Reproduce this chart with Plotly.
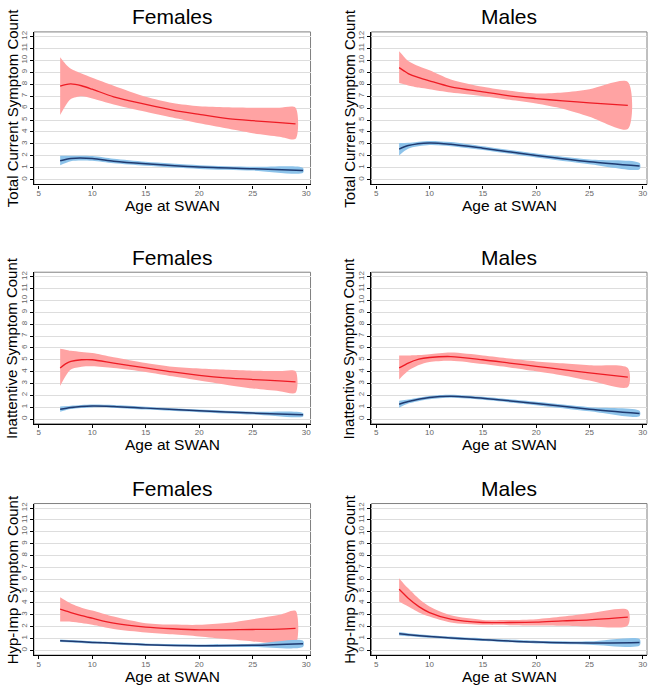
import plotly.graph_objects as go

# ---------------- data ----------------
F_red_age = [7, 7.5, 8, 9, 10, 12, 15, 17.5, 20, 22.5, 25, 27.5, 29]
M_red_age = [7.15, 7.6, 8, 9, 10, 12, 15, 17.5, 20, 22.5, 25, 28.6]
F_blue_age = [7, 8, 10, 12, 15, 20, 25, 29.7]
M_blue_age = [7.15, 8, 10, 12, 15, 20, 25, 29.7]

# Females - Total
ft_red = [7.83, 7.97, 8.03, 7.87, 7.58, 6.94, 6.31, 5.83, 5.47, 5.14, 4.94, 4.78, 4.67]
ft_red_hi = [10.25, 9.7, 9.3, 8.9, 8.55, 7.88, 6.95, 6.42, 6.15, 6.07, 6.03, 6.03, 6.03]
ft_red_lo = [5.42, 6.2, 6.75, 6.98, 6.8, 6.3, 5.69, 5.2, 4.72, 4.3, 3.89, 3.6, 3.42]
ft_blue = [1.58, 1.78, 1.78, 1.55, 1.33, 1.06, 0.92, 0.78]
ft_blue_hi = [2.0, 2.0, 1.98, 1.75, 1.5, 1.22, 1.08, 0.98]
ft_blue_lo = [1.2, 1.55, 1.58, 1.37, 1.16, 0.9, 0.76, 0.58]

# Males - Total
mt_red = [9.39, 9.12, 8.89, 8.55, 8.28, 7.78, 7.36, 7.03, 6.8, 6.6, 6.44, 6.22]
mt_red_hi = [10.75, 10.3, 9.95, 9.5, 9.17, 8.4, 7.78, 7.45, 7.22, 7.3, 7.58, 8.19]
mt_red_lo = [8.11, 8.0, 7.9, 7.72, 7.58, 7.3, 7.0, 6.7, 6.39, 5.95, 5.28, 4.25]
mt_blue = [2.56, 2.86, 3.08, 2.97, 2.64, 2.03, 1.5, 1.14]
mt_blue_hi = [3.08, 3.1, 3.25, 3.15, 2.8, 2.2, 1.7, 1.4]
mt_blue_lo = [2.03, 2.6, 2.9, 2.8, 2.48, 1.86, 1.3, 0.88]

# Females - Inattentive
fi_red = [4.31, 4.65, 4.86, 5.0, 5.0, 4.72, 4.31, 3.97, 3.69, 3.47, 3.33, 3.22, 3.14]
fi_red_hi = [5.92, 5.85, 5.75, 5.65, 5.56, 5.2, 4.72, 4.4, 4.25, 4.15, 4.08, 4.05, 4.03]
fi_red_lo = [2.78, 3.6, 4.17, 4.4, 4.44, 4.3, 3.97, 3.6, 3.25, 2.9, 2.58, 2.35, 2.22]
fi_blue = [0.83, 0.98, 1.1, 1.06, 0.92, 0.69, 0.5, 0.36]
fi_blue_hi = [1.05, 1.12, 1.22, 1.18, 1.04, 0.8, 0.62, 0.5]
fi_blue_lo = [0.62, 0.84, 0.98, 0.94, 0.8, 0.58, 0.38, 0.22]

# Males - Inattentive
mi_red = [4.31, 4.52, 4.72, 5.05, 5.19, 5.27, 5.0, 4.72, 4.44, 4.17, 3.89, 3.53]
mi_red_hi = [5.36, 5.36, 5.36, 5.4, 5.47, 5.6, 5.36, 5.1, 4.86, 4.7, 4.53, 4.31]
mi_red_lo = [3.33, 3.75, 4.08, 4.55, 4.81, 4.92, 4.64, 4.35, 4.03, 3.68, 3.25, 2.69]
mi_blue = [1.25, 1.47, 1.81, 1.92, 1.75, 1.31, 0.83, 0.47]
mi_blue_hi = [1.55, 1.65, 1.95, 2.05, 1.88, 1.45, 1.0, 0.7]
mi_blue_lo = [0.95, 1.3, 1.67, 1.79, 1.62, 1.17, 0.66, 0.24]

# Females - Hyp-Imp
fh_red = [3.47, 3.33, 3.19, 2.93, 2.71, 2.29, 1.96, 1.82, 1.73, 1.73, 1.76, 1.79, 1.85]
fh_red_hi = [4.48, 4.2, 3.95, 3.6, 3.36, 2.85, 2.29, 2.17, 2.15, 2.3, 2.63, 3.0, 3.33]
fh_red_lo = [2.43, 2.43, 2.42, 2.3, 2.15, 1.8, 1.51, 1.35, 1.17, 0.95, 0.75, 0.55, 0.5]
fh_blue = [0.81, 0.77, 0.67, 0.6, 0.48, 0.39, 0.42, 0.56]
fh_blue_hi = [0.92, 0.87, 0.77, 0.7, 0.58, 0.5, 0.55, 0.82]
fh_blue_lo = [0.7, 0.67, 0.57, 0.5, 0.38, 0.28, 0.29, 0.3]

# Males - Hyp-Imp
mh_red = [5.15, 4.75, 4.39, 3.69, 3.19, 2.63, 2.35, 2.35, 2.38, 2.49, 2.57, 2.8]
mh_red_hi = [6.07, 5.6, 5.23, 4.35, 3.69, 2.95, 2.57, 2.55, 2.63, 2.85, 3.13, 3.41]
mh_red_lo = [4.11, 3.88, 3.69, 3.2, 2.85, 2.35, 2.15, 2.12, 2.1, 2.08, 2.01, 2.1]
mh_blue = [1.4, 1.32, 1.17, 1.05, 0.9, 0.7, 0.62, 0.67]
mh_blue_hi = [1.55, 1.45, 1.28, 1.16, 1.01, 0.82, 0.76, 0.95]
mh_blue_lo = [1.25, 1.19, 1.06, 0.94, 0.79, 0.58, 0.48, 0.4]

panel_titles = ["Females", "Males", "Females", "Males", "Females", "Males"]
y_titles = ["Total Current Symptom Count", "Total Current Symptom Count",
            "Inattentive Symptom Count", "Inattentive Symptom Count",
            "Hyp-Imp Symptom Count", "Hyp-Imp Symptom Count"]
x_title = "Age at SWAN"
x_ticks = [5, 10, 15, 20, 25, 30]
y_ticks = list(range(0, 13))

panels = [
    (F_red_age, ft_red, ft_red_lo, ft_red_hi, F_blue_age, ft_blue, ft_blue_lo, ft_blue_hi),
    (M_red_age, mt_red, mt_red_lo, mt_red_hi, M_blue_age, mt_blue, mt_blue_lo, mt_blue_hi),
    (F_red_age, fi_red, fi_red_lo, fi_red_hi, F_blue_age, fi_blue, fi_blue_lo, fi_blue_hi),
    (M_red_age, mi_red, mi_red_lo, mi_red_hi, M_blue_age, mi_blue, mi_blue_lo, mi_blue_hi),
    (F_red_age, fh_red, fh_red_lo, fh_red_hi, F_blue_age, fh_blue, fh_blue_lo, fh_blue_hi),
    (M_red_age, mh_red, mh_red_lo, mh_red_hi, M_blue_age, mh_blue, mh_blue_lo, mh_blue_hi),
]

# ---------------- layout geometry (pixels) ----------------
W, H = 654, 690
col_px = [(34, 311), (372, 648)]
row_px = [(30, 183), (271, 423), (503, 655)]

RED_LINE = "#EE1C25"
RED_BAND = "#FFA3A3"
BLUE_LINE = "#1F3A70"
BLUE_BAND = "#8DC3EA"

fig = go.Figure()
layout = dict(width=W, height=H, margin=dict(l=0, r=0, t=0, b=0),
              paper_bgcolor="white", plot_bgcolor="white", showlegend=False,
              font=dict(family="Liberation Sans, Arial, sans-serif"))
annotations = []
shapes = []

for i, (ra, rm, rlo, rhi, ba, bm, blo, bhi) in enumerate(panels):
    r, c = divmod(i, 2)
    n = i + 1
    xa = "x" if n == 1 else f"x{n}"
    ya = "y" if n == 1 else f"y{n}"
    x0, x1 = col_px[c]
    y0, y1 = row_px[r]

    # bands
    fig.add_trace(go.Scatter(x=ra + ra[::-1], y=rhi + rlo[::-1], fill="toself",
                             fillcolor=RED_BAND, line=dict(width=0, shape="spline", smoothing=0.8),
                             mode="lines", hoverinfo="skip", xaxis=xa, yaxis=ya))
    fig.add_trace(go.Scatter(x=ba + ba[::-1], y=bhi + blo[::-1], fill="toself",
                             fillcolor=BLUE_BAND, line=dict(width=0, shape="spline", smoothing=0.8),
                             mode="lines", hoverinfo="skip", xaxis=xa, yaxis=ya))
    # lines
    fig.add_trace(go.Scatter(x=ra, y=rm, mode="lines",
                             line=dict(color=RED_LINE, width=1.3, shape="spline", smoothing=0.8),
                             xaxis=xa, yaxis=ya))
    fig.add_trace(go.Scatter(x=ba, y=bm, mode="lines",
                             line=dict(color=BLUE_LINE, width=1.5, shape="spline", smoothing=0.8),
                             xaxis=xa, yaxis=ya))

    xkey = "xaxis" if n == 1 else f"xaxis{n}"
    ykey = "yaxis" if n == 1 else f"yaxis{n}"
    layout[xkey] = dict(domain=[x0 / W, x1 / W], anchor=ya, range=[4.55, 30.4],
                        tickvals=x_ticks, ticks="outside", ticklen=3, tickcolor="black",
                        ticklabelstandoff=-2,
                        showline=True, linecolor="black", linewidth=1.2,
                        showgrid=False, zeroline=False,
                        tickfont=dict(size=8, color="#666666"))
    layout[ykey] = dict(domain=[1 - y1 / H, 1 - y0 / H], anchor=xa, range=[-0.4, 12.38],
                        tickvals=y_ticks, ticks="outside", ticklen=3, tickcolor="black",
                        tickangle=-90,
                        showline=True, linecolor="black", linewidth=1.2,
                        showgrid=True, gridcolor="#DDDDDD", gridwidth=1, zeroline=False,
                        tickfont=dict(size=8, color="#666666"))

    # grey box (top/right border)
    shapes.append(dict(type="rect", xref=f"{xa} domain", yref=f"{ya} domain",
                       x0=0, x1=1, y0=0, y1=1, line=dict(color="#808080", width=1),
                       layer="below"))

    cx = (x0 + x1) / 2
    cy = (y0 + y1) / 2
    annotations.append(dict(text=panel_titles[i], xref="paper", yref="paper",
                            x=cx / W, y=1 - (y0 - 15) / H, showarrow=False,
                            xanchor="center", yanchor="middle",
                            font=dict(size=21, color="black")))
    annotations.append(dict(text=x_title, xref="paper", yref="paper",
                            x=cx / W, y=1 - (y1 + 21) / H, showarrow=False,
                            xanchor="center", yanchor="middle",
                            font=dict(size=15.5, color="black")))
    annotations.append(dict(text=y_titles[i], xref="paper", yref="paper",
                            x=(x0 - 22) / W, y=1 - cy / H, showarrow=False,
                            textangle=-90, xanchor="center", yanchor="middle",
                            font=dict(size=15, color="black")))

layout["annotations"] = annotations
layout["shapes"] = shapes
fig.update_layout(**layout)
fig.write_html("out.html", config={"displayModeBar": False},
               post_script="document.body.style.margin='0px';document.body.style.overflow='hidden';")
